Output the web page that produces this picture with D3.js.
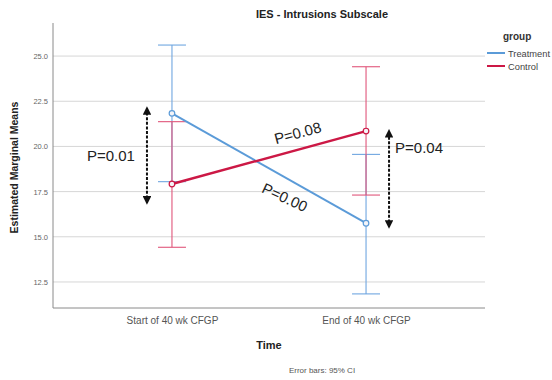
<!DOCTYPE html>
<html>
<head>
<meta charset="utf-8">
<script src="https://cdn.jsdelivr.net/npm/d3@7"></script>
<style>
  html, body { margin: 0; padding: 0; background: #fff; }
  svg { display: block; font-family: "Liberation Sans", Arial, sans-serif; }
</style>
</head>
<body>
<svg id="chart" width="552" height="380"></svg>
<script>
// Time points and group estimates with 95% CI
const timePoints = ["Start of 40 wk CFGP", "End of 40 wk CFGP"];
const groups = ["Treatment", "Control"];
const treatmentMean = [21.83, 15.75];
const treatmentLower = [18.05, 11.84];
const treatmentUpper = [25.61, 19.56];
const controlMean = [17.92, 20.85];
const controlLower = [14.42, 17.31];
const controlUpper = [21.37, 24.41];
const yTicks = [12.5, 15.0, 17.5, 20.0, 22.5, 25.0];

// Comparison annotations (between-group at each time, within-group across time)
const betweenLabels = ["P=0.01", "P=0.04"];
const betweenFrom = [16.87, 15.54];
const betweenTo = [22.13, 20.87];
const withinLabels = ["P=0.00", "P=0.08"];

const colors = { Treatment: "#5b9bd8", Control: "#cc1845" };
const barColors = { Treatment: "#6fa6e0", Control: "#e0557a" };

const svg = d3.select("#chart");
const plotL = 53, plotR = 485, plotT = 23, plotB = 308;

const x = d3.scalePoint().domain(timePoints).range([plotL, plotR]).padding(0.613);
const y = d3.scaleLinear().domain([11.06, 26.83]).range([plotB, plotT]);

// gridlines
svg.append("g").selectAll("line").data(yTicks).join("line")
  .attr("x1", plotL).attr("x2", plotR)
  .attr("y1", d => y(d)).attr("y2", d => y(d))
  .attr("stroke", "#d6d6d6").attr("stroke-width", 1);

// y axis
const yAxis = svg.append("g").attr("transform", `translate(${plotL},0)`)
  .call(d3.axisLeft(y).tickValues(yTicks).tickFormat(d3.format(".1f")).tickSize(0).tickPadding(5));
yAxis.select(".domain").remove();
yAxis.selectAll("text").attr("font-size", 7.5).attr("fill", "#666")
  .attr("font-family", "Liberation Sans, Arial, sans-serif");

// x axis
const xAxis = svg.append("g").attr("transform", `translate(0,${plotB})`)
  .call(d3.axisBottom(x).tickSize(0).tickPadding(9));
xAxis.select(".domain").remove();
xAxis.selectAll("text").attr("font-size", 10).attr("fill", "#555")
  .attr("font-family", "Liberation Sans, Arial, sans-serif");

// axis frame lines
svg.append("line").attr("x1", plotL).attr("x2", plotL).attr("y1", plotT).attr("y2", plotB)
  .attr("stroke", "#8a8a8a").attr("stroke-width", 1);
svg.append("line").attr("x1", plotL).attr("x2", plotR).attr("y1", plotB).attr("y2", plotB)
  .attr("stroke", "#8a8a8a").attr("stroke-width", 1);

const series = [
  { name: "Treatment", mean: treatmentMean, lo: treatmentLower, hi: treatmentUpper },
  { name: "Control", mean: controlMean, lo: controlLower, hi: controlUpper }
];
const cap = 14;

// error bars
series.forEach(s => {
  const g = svg.append("g").attr("stroke", barColors[s.name]).attr("stroke-width", 1.1);
  timePoints.forEach((t, i) => {
    const cx = x(t);
    g.append("line").attr("x1", cx).attr("x2", cx).attr("y1", y(s.lo[i])).attr("y2", y(s.hi[i]));
    g.append("line").attr("x1", cx - cap).attr("x2", cx + cap).attr("y1", y(s.lo[i])).attr("y2", y(s.lo[i]));
    g.append("line").attr("x1", cx - cap).attr("x2", cx + cap).attr("y1", y(s.hi[i])).attr("y2", y(s.hi[i]));
  });
});

// mean lines and markers
const line = d3.line().x((d, i) => x(timePoints[i])).y(d => y(d));
series.forEach(s => {
  svg.append("path").datum(s.mean).attr("d", line)
    .attr("fill", "none").attr("stroke", colors[s.name])
    .attr("stroke-width", s.name === "Control" ? 2.4 : 2);
});
series.forEach(s => {
  svg.append("g").selectAll("circle").data(s.mean).join("circle")
    .attr("cx", (d, i) => x(timePoints[i])).attr("cy", d => y(d)).attr("r", 2.8)
    .attr("fill", "#f4f4f8").attr("stroke", colors[s.name]).attr("stroke-width", 1.2);
});

// title
svg.append("text").attr("x", 322).attr("y", 18).attr("text-anchor", "middle")
  .attr("font-size", 11).attr("font-weight", "bold").attr("fill", "#222")
  .text("IES - Intrusions Subscale");

// axis titles
svg.append("text").attr("transform", `translate(18,${(plotT + plotB) / 2 + 2}) rotate(-90)`)
  .attr("text-anchor", "middle").attr("font-size", 10.5).attr("font-weight", "bold").attr("fill", "#222")
  .text("Estimated Marginal Means");
svg.append("text").attr("x", (plotL + plotR) / 2).attr("y", 349).attr("text-anchor", "middle")
  .attr("font-size", 11).attr("font-weight", "bold").attr("fill", "#222").text("Time");
svg.append("text").attr("x", 322).attr("y", 373).attr("text-anchor", "middle")
  .attr("font-size", 8).attr("fill", "#555").text("Error bars: 95% CI");

// legend
svg.append("text").attr("x", 503).attr("y", 40).attr("font-size", 10).attr("font-weight", "bold")
  .attr("fill", "#333").text("group");
const lg = svg.append("g").selectAll("g").data(groups).join("g")
  .attr("transform", (d, i) => `translate(487,${53 + i * 13})`);
lg.append("line").attr("x1", 0).attr("x2", 18).attr("stroke", d => colors[d]).attr("stroke-width", 2);
lg.append("text").attr("x", 21).attr("y", 3.5).attr("font-size", 9.3).attr("fill", "#444").text(d => d);

// dashed double-headed arrows for between-group comparisons
svg.append("defs").append("marker").attr("id", "head")
  .attr("viewBox", "0 0 10 10").attr("refX", 8).attr("refY", 5)
  .attr("markerWidth", 4.3).attr("markerHeight", 4.3).attr("markerUnits", "strokeWidth")
  .attr("orient", "auto-start-reverse")
  .append("path").attr("d", "M0,0 L10,5 L0,10 Z").attr("fill", "#111");

const arrowOffset = [-25, 23];
const labelOffset = [-36, 6];
timePoints.forEach((t, i) => {
  const ax = x(t) + arrowOffset[i];
  svg.append("line").attr("x1", ax).attr("x2", ax)
    .attr("y1", y(betweenFrom[i])).attr("y2", y(betweenTo[i]))
    .attr("stroke", "#111").attr("stroke-width", 2).attr("stroke-dasharray", "3,1.6")
    .attr("marker-start", "url(#head)").attr("marker-end", "url(#head)");
  const mid = (betweenFrom[i] + betweenTo[i]) / 2;
  svg.append("text")
    .attr("x", ax + labelOffset[i]).attr("y", i === 0 ? y(mid) + 6 : y(betweenTo[i]) + 22)
    .attr("text-anchor", i === 0 ? "middle" : "start")
    .attr("font-size", 15).attr("fill", "#222").text(betweenLabels[i]);
});

// rotated labels along the group lines
function alongLabel(mean, label, frac, dx, dy, angle) {
  const px = x(timePoints[0]) + frac * (x(timePoints[1]) - x(timePoints[0]));
  const py = y(mean[0] + frac * (mean[1] - mean[0]));
  svg.append("text").attr("transform", `translate(${px + dx},${py + dy}) rotate(${angle})`)
    .attr("text-anchor", "middle").attr("font-size", 15).attr("fill", "#222").text(label);
}
alongLabel(treatmentMean, withinLabels[0], 0.58, -2, 25, 25);
alongLabel(controlMean, withinLabels[1], 0.66, -1, -11, -15);
</script>
</body>
</html>
